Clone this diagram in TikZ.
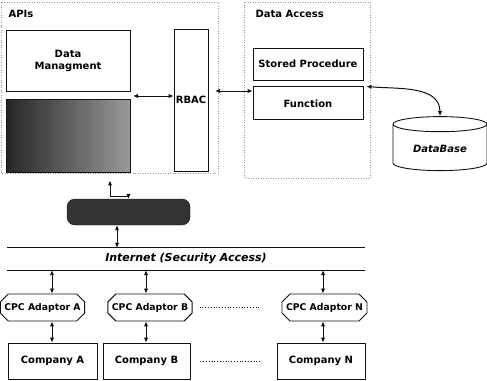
\documentclass[tikz,border=0pt]{standalone}
\usepackage{fontspec}
\setmainfont{DejaVu Sans}
\usepackage{tikz}
\usetikzlibrary{arrows.meta, positioning, shapes.geometric, shapes.misc}
\definecolor{ink}{HTML}{111111}
\definecolor{framegrey}{HTML}{9A9A9A}
\tikzset{
  block/.style={rectangle, draw=ink, line width=0.9pt, fill=white,
    align=center, font=\fontsize{10}{12}\selectfont\bfseries, inner sep=1pt},
  blockDark/.style={block, left color=black!85, right color=black!40},
  gatewayshape/.style={rectangle, rounded corners=8pt, draw=ink, fill=black!80,
    minimum width=123, minimum height=26},
  adaptor/.style={chamfered rectangle, chamfered rectangle xsep=4pt, chamfered rectangle ysep=4pt,
    draw=ink, line width=0.9pt, minimum height=27, inner sep=0pt,
    font=\fontsize{9.3}{11}\selectfont\bfseries},
  company/.style={block, minimum height=36},
  dbshape/.style={cylinder, shape border rotate=90, aspect=0.25, draw=ink, line width=0.9pt,
    minimum width=94, minimum height=54, font=\fontsize{10}{12}\selectfont\bfseries\itshape},
  biarrow/.style={{Latex[length=5pt,width=4.5pt]}-{Latex[length=5pt,width=4.5pt]}, line width=1pt, ink},
  framebox/.style={framegrey, dotted, line width=0.5pt},
  dotline/.style={ink, dotted, line width=0.8pt},
  title/.style={font=\fontsize{10}{12}\selectfont\bfseries, anchor=west},
}
\begin{document}
\begin{tikzpicture}[x=1pt, y=-1pt]
\useasboundingbox (0,0) rectangle (487,380);
% dotted frames
\draw[framebox] (1,2) rectangle (218,173);
\draw[framebox] (244,2) rectangle (370,178);
\node[title] (apis) at (5,14) {APIs};
\node[title] (dataaccess) at (252,14) {Data Access};
% APIs column
\node[block, minimum width=124, minimum height=61] (datamgmt) at (68,60.5) {Data\\Managment};
\node[blockDark, minimum width=124, minimum height=73] (secnode) at (68,135.5) {};
\node[block, minimum width=34, minimum height=142] (rbac) at (191,100) {RBAC};
% data access
\node[block, minimum width=110, minimum height=32] (storedproc) at (308,64) {Stored Procedure};
\node[block, minimum width=110, minimum height=33, below=6pt of storedproc] (func) {Function};
\node[dbshape] (dbase) at (440,149) {DataBase};
\node[gatewayshape] (gateway) at (128.5,212) {};
\node[font=\fontsize{11}{13}\selectfont\bfseries\itshape, minimum width=358, minimum height=22, inner sep=0pt] (inet) at (186,259) {Internet (Security Access)};
\draw[line width=1.1pt, ink] (inet.north west) -- (inet.north east);
\draw[line width=1.1pt, ink] (inet.south west) -- (inet.south east);
% companies
\node[adaptor, minimum width=81] (adaptA) at (42.5,307.5) {CPC Adaptor A};
\node[adaptor, minimum width=80] (adaptB) at (150,307.5) {CPC Adaptor B};
\node[adaptor, minimum width=81] (adaptN) at (324.5,307.5) {CPC Adaptor N};
\node[company, minimum width=89] (compA) at (52.5,361) {Company A};
\node[company, minimum width=87] (compB) at (146.5,361) {Company B};
\node[company, minimum width=88] (compN) at (321,361) {Company N};
\coordinate (colA) at (52,0);
\coordinate (colB) at (146,0);
\coordinate (colN) at (323,0);
\coordinate (apiedge) at (133,96);
\coordinate (rbacedge) at (215,91);
% connectors
\draw[biarrow] (apiedge) -- (apiedge -| rbac.west);
\draw[biarrow] (rbacedge) -- (rbacedge -| func.west);
\draw[biarrow] ([xshift=3pt]func.north east) to[out=-5, in=90] (dbase.north);
\draw[biarrow] ([shift={(42,8)}]secnode.south) -- ++(0,16) -| (gateway.north);
\draw[biarrow] ([xshift=-11.5pt]gateway.south) -- ([xshift=-11.5pt]gateway.south |- inet.north);
\foreach \col/\ad/\co in {colA/adaptA/compA, colB/adaptB/compB, colN/adaptN/compN} {
  \draw[biarrow] (inet.south -| \col) -- (\ad.north -| \col);
  \draw[biarrow] (\ad.south -| \col) -- (\co.north -| \col);
}
\draw[dotline] ([xshift=7pt]adaptB.east) -- ([xshift=-22pt]adaptN.west);
\draw[dotline] ([xshift=10pt]compB.east) -- ([xshift=-15pt]compN.west);
\end{tikzpicture}
\end{document}
